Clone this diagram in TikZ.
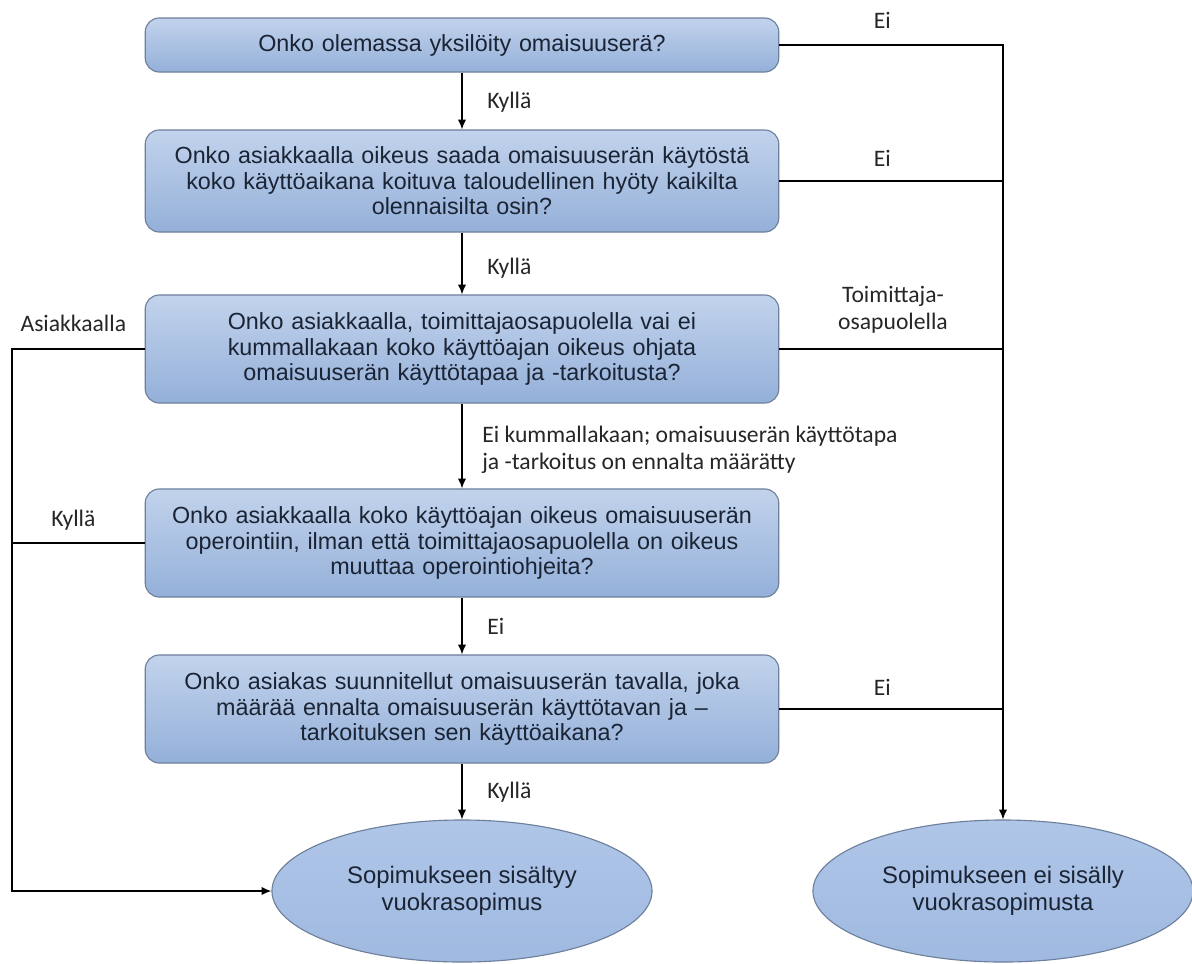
\documentclass[tikz,border=0pt]{standalone}
\usepackage{fontspec}
\setmainfont{Liberation Sans}
\newfontfamily\labelfont{Carlito}
\usetikzlibrary{arrows.meta,shapes.geometric}

\definecolor{boxtop}{HTML}{C2D3EC}
\definecolor{boxbottom}{HTML}{94B0D9}
\definecolor{boxline}{HTML}{6D809B}
\definecolor{boxtext}{HTML}{1B2434}
\definecolor{endtop}{HTML}{AFC6E8}
\definecolor{endbottom}{HTML}{A0B9E0}

\begin{document}
\begin{tikzpicture}[x=0.025cm, y=-0.025cm,
        question/.style={draw=boxline, line width=0.8pt, rounded corners=0.35cm,
            top color=boxtop, bottom color=boxbottom, minimum width=15.8cm,
            text width=15.6cm, align=center, text=boxtext,
            font=\fontsize{16.6}{18.2}\selectfont},
        result/.style={ellipse, draw=boxline, line width=0.8pt,
            top color=endtop, bottom color=endbottom,
            minimum width=9.5cm, minimum height=3.55cm, inner sep=0pt,
            align=center, text=boxtext, font=\fontsize{17}{19.2}\selectfont},
        answer/.style={font=\labelfont\fontsize{16.8}{19}\selectfont,
            text=black!85, align=left, inner sep=0pt},
        flow/.style={line width=1.1pt, -{Latex[length=7pt,width=6pt]}},
        branch/.style={line width=1.1pt}]
            \useasboundingbox (0, 0) rectangle (1192, 963);

            \node[question, minimum height=1.35cm] (q1) at (462, 45) { Onko olemassa yksilöity omaisuuserä? };
            \node[question, minimum height=2.55cm] (q2) at (462, 181) { Onko asiakkaalla oikeus saada omaisuuserän käytöstä\\ koko käyttöaikana koituva taloudellinen hyöty kaikilta\\ olennaisilta osin? };
            \node[question, minimum height=2.7cm] (q3) at (462, 349) { Onko asiakkaalla, toimittajaosapuolella vai ei\\ kummallakaan koko käyttöajan oikeus ohjata\\ omaisuuserän käyttötapaa ja -tarkoitusta? };
            \node[question, minimum height=2.7cm] (q4) at (462, 543) { Onko asiakkaalla koko käyttöajan oikeus omaisuuserän\\ operointiin, ilman että toimittajaosapuolella on oikeus\\ muuttaa operointiohjeita? };
            \node[question, minimum height=2.7cm] (q5) at (462, 709) { Onko asiakas suunnitellut omaisuuserän tavalla, joka\\ määrää ennalta omaisuuserän käyttötavan ja --\\ tarkoituksen sen käyttöaikana? };

            \node[result] (yes) at (462, 891) { Sopimukseen sisältyy\\ vuokrasopimus };
            \node[result] (no) at (1003, 891) { Sopimukseen ei sisälly\\ vuokrasopimusta };

            \coordinate (rtop) at (1003, 45);
            \coordinate (ltop) at (12, 349);
            \coordinate (lbot) at (12, 891);

            \draw[flow] (q1) -- (q2);
            \draw[flow] (q2) -- (q3);
            \draw[flow] (q3) -- (q4);
            \draw[flow] (q4) -- (q5);
            \draw[flow] (q5) -- (yes);

            \draw[flow] (q1) -- (rtop) -- (no);
            \draw[branch] (q2.east) -- (q2.east -| rtop);
            \draw[branch] (q3.east) -- (q3.east -| rtop);
            \draw[branch] (q5.east) -- (q5.east -| rtop);

            \draw[flow] (q3) -- (ltop) -- (lbot) -- (yes);
            \draw[branch] (q4.west) -- (q4.west -| ltop);

            \node[answer, anchor=west] (a1) at (487, 102) { Kyllä };
            \node[answer, anchor=west] (a2) at (487, 268) { Kyllä };
            \node[answer, anchor=west] (a3) at (482, 450) { Ei kummallakaan; omaisuuserän käyttötapa\\ ja -tarkoitus on ennalta määrätty };
            \node[answer, anchor=west] (a4) at (487, 626) { Ei };
            \node[answer, anchor=west] (a5) at (487, 792) { Kyllä };

            \node[answer] (b1) at (885, 20) { Ei };
            \node[answer] (b2) at (885, 158) { Ei };
            \node[answer, align=center] (b3) at (893, 310) { Toimittaja-\\ osapuolella };
            \node[answer] (b5) at (885, 687) { Ei };

            \node[answer] (c3) at (76, 323) { Asiakkaalla };
            \node[answer] (c4) at (76, 520) { Kyllä };
        \end{tikzpicture}
\end{document}
